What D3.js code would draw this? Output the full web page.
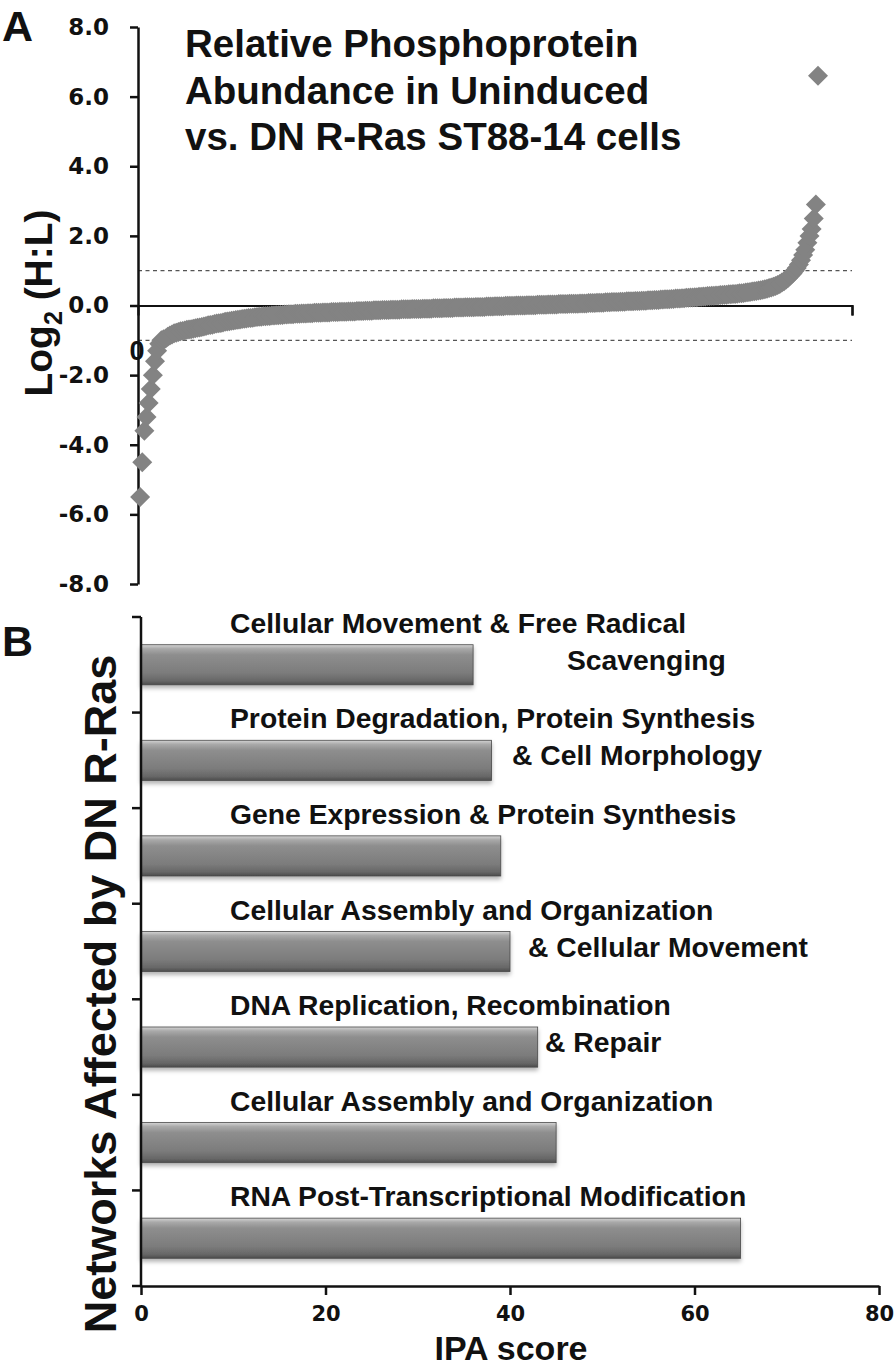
<!DOCTYPE html>
<html>
<head>
<meta charset="utf-8">
<script src="https://cdn.jsdelivr.net/npm/d3@7"></script>
<style>
  body { margin: 0; background: #fff; }
  svg { display: block; }
  text { font-family: "Liberation Sans", Arial, sans-serif; font-weight: bold; fill: #111; }
  .tick text { font-family: "DejaVu Sans", sans-serif; font-weight: bold; fill: #111; }
</style>
</head>
<body>
<svg id="chart" width="896" height="1367"></svg>
<script>
// ---- panel A: sorted log2(H:L) ratios (rank order) ----
var ratioValues = [
  -5.5, -4.5, -3.6, -3.2, -2.8, -2.4, -2.0, -1.6, -1.3, -1.1, -1.0, -0.97,
  -0.95, -0.9, -0.86, -0.83, -0.8, -0.78, -0.76, -0.74, -0.73, -0.72,
  -0.7, -0.69, -0.68, -0.67, -0.65, -0.64, -0.63, -0.62, -0.6, -0.59, -0.57, -0.56, -0.55, -0.53, -0.52, -0.51, -0.5, -0.49, -0.47, -0.46,
  -0.45, -0.44, -0.43, -0.42, -0.41, -0.4, -0.39, -0.38, -0.37, -0.36, -0.36, -0.35, -0.34, -0.33, -0.32, -0.32, -0.31, -0.31, -0.3, -0.3, -0.29, -0.29, -0.28, -0.28, -0.27, -0.27, -0.26,
  -0.26, -0.25, -0.25, -0.25, -0.24, -0.24, -0.24, -0.23, -0.23, -0.23, -0.22,
  -0.22, -0.22, -0.21, -0.21, -0.21, -0.21, -0.2, -0.2, -0.2, -0.2, -0.19, -0.19,
  -0.19, -0.19, -0.18, -0.18, -0.18, -0.18, -0.17, -0.17, -0.17, -0.17, -0.16, -0.16, -0.16,
  -0.16, -0.15, -0.15, -0.15, -0.15, -0.14, -0.14, -0.14, -0.14, -0.13, -0.13, -0.13, -0.13, -0.12, -0.12,
  -0.12, -0.12, -0.12, -0.11, -0.11, -0.11, -0.11, -0.11, -0.1, -0.1, -0.1, -0.1, -0.1, -0.09, -0.09, -0.09, -0.09,
  -0.09, -0.08, -0.08, -0.08, -0.08, -0.08, -0.07, -0.07, -0.07, -0.07, -0.07, -0.06, -0.06, -0.06, -0.06, -0.06,
  -0.05, -0.05, -0.05, -0.05, -0.05, -0.04, -0.04, -0.04, -0.04, -0.04, -0.03, -0.03, -0.03, -0.03, -0.02, -0.02, -0.02,
  -0.02, -0.02, -0.01, -0.01, -0.01, -0.01, -0.01, 0, 0, 0, 0, 0, 0.01, 0.01, 0.01,
  0.01, 0.01, 0.02, 0.02, 0.02, 0.02, 0.02, 0.03, 0.03, 0.03, 0.03, 0.03, 0.04, 0.04,
  0.04, 0.04, 0.04, 0.05, 0.05, 0.05, 0.05, 0.05, 0.06, 0.06, 0.06, 0.06, 0.07, 0.07,
  0.07, 0.07, 0.08, 0.08, 0.08, 0.08, 0.09, 0.09, 0.09, 0.1, 0.1,
  0.1, 0.1, 0.11, 0.11, 0.11, 0.12, 0.12, 0.12, 0.12, 0.13, 0.13, 0.13,
  0.14, 0.14, 0.14, 0.15, 0.15, 0.15, 0.16, 0.16, 0.16, 0.17,
  0.17, 0.18, 0.18, 0.18, 0.19, 0.19, 0.2, 0.2, 0.2,
  0.21, 0.21, 0.22, 0.22, 0.23, 0.23, 0.24, 0.24, 0.25, 0.25,
  0.26, 0.26, 0.27, 0.27, 0.28, 0.28, 0.29, 0.29, 0.3,
  0.3, 0.31, 0.31, 0.32, 0.32, 0.33, 0.33, 0.34, 0.35, 0.35, 0.36,
  0.37, 0.38, 0.39, 0.4, 0.41, 0.42, 0.43, 0.44, 0.45, 0.47, 0.48, 0.5, 0.52, 0.54,
  0.56, 0.59, 0.62, 0.66, 0.7, 0.75, 0.8, 0.86, 0.92, 1.0,
  1.08, 1.18, 1.3, 1.45, 1.6, 1.8, 2.0, 2.2, 2.5, 2.9, 6.6
];
var ratioTicks = [-8, -6, -4, -2, 0, 2, 4, 6, 8];
var cutoffs = [1, -1];
var titleLines = ["Relative Phosphoprotein", "Abundance in Uninduced", "vs. DN R-Ras ST88-14 cells"];

// ---- panel B: IPA networks ----
var networkLine1 = [
  "Cellular Movement & Free Radical",
  "Protein Degradation, Protein Synthesis",
  "Gene Expression & Protein Synthesis",
  "Cellular Assembly and Organization",
  "DNA Replication, Recombination",
  "Cellular Assembly and Organization",
  "RNA Post-Transcriptional Modification"
];
var networkLine2 = ["Scavenging", "& Cell Morphology", "", "& Cellular Movement", "& Repair", "", ""];
var ipaScores = [36, 38, 39, 40, 43, 45, 65];
var ipaTicks = [0, 20, 40, 60, 80];

// where the second line of each label starts (px)
var line2Left = [567, 512, 0, 528, 545, 0, 0];

var svg = d3.select("#chart");
svg.append("rect").attr("width", 896).attr("height", 1367).attr("fill", "#fff");

var defs = svg.append("defs");
var grad = defs.append("linearGradient").attr("id", "barGrad")
  .attr("x1", 0).attr("y1", 0).attr("x2", 0).attr("y2", 1);
[[0, "#d4d4d4"], [0.1, "#a9a9a9"], [0.25, "#8e8e8e"], [0.7, "#7c7c7c"], [0.9, "#676767"], [1, "#4c4c4c"]]
  .forEach(function(s) { grad.append("stop").attr("offset", s[0]).attr("stop-color", s[1]); });
var shadow = defs.append("filter").attr("id", "shadow")
  .attr("x", "-5%").attr("y", "-30%").attr("width", "110%").attr("height", "170%");
shadow.append("feDropShadow").attr("dx", 0).attr("dy", 3).attr("stdDeviation", 2)
  .attr("flood-color", "#000").attr("flood-opacity", 0.3);

/////////////// panel A ///////////////
var xA = d3.scaleLinear().domain([0, ratioValues.length * 1.05]).range([138, 852]);
var yA = d3.scaleLinear().domain([-8, 8]).range([584, 27]);

// dashed cut-off lines
svg.selectAll(".cut")
  .data(cutoffs)
  .enter().append("line")
  .attr("class", "cut")
  .attr("x1", xA(0)).attr("x2", xA.range()[1])
  .attr("y1", function(d) { return yA(d); })
  .attr("y2", function(d) { return yA(d); })
  .attr("stroke", "#555").attr("stroke-width", 1.2).attr("stroke-dasharray", "4,3.5");

// x axis through zero
var xAxisA = svg.append("g")
  .attr("transform", "translate(0," + yA(0) + ")")
  .call(d3.axisBottom(xA).tickValues([xA.domain()[1]]).tickSize(10).tickFormat(""));
xAxisA.select(".domain").attr("stroke", "#111").attr("stroke-width", 2.2);
xAxisA.selectAll(".tick line").attr("stroke", "#111").attr("stroke-width", 2.2);

// y axis
var yAxisA = svg.append("g")
  .attr("transform", "translate(" + xA(0) + ",0)")
  .call(d3.axisLeft(yA).tickValues(ratioTicks).tickSize(8).tickSizeOuter(0).tickPadding(21)
    .tickFormat(function(d) { return d.toFixed(1); }));
yAxisA.select(".domain").attr("stroke", "#111").attr("stroke-width", 2.5);
yAxisA.selectAll(".tick line").attr("stroke", "#111").attr("stroke-width", 2.5);
yAxisA.selectAll(".tick text").attr("font-size", 23);

// diamonds
var diamond = d3.symbol().type(d3.symbolSquare).size(200);
svg.append("g").selectAll("path")
  .data(ratioValues)
  .enter().append("path")
  .attr("d", diamond)
  .attr("transform", function(d, i) { return "translate(" + xA(i + 1) + "," + yA(d) + ") rotate(45)"; })
  .attr("fill", "#838383");

// stray "0" label of the category axis
svg.append("text").attr("x", 137).attr("y", 360).attr("text-anchor", "middle")
  .attr("font-size", 27).text("0");

// title
svg.append("g").selectAll("text")
  .data(titleLines)
  .enter().append("text")
  .attr("x", 185)
  .attr("y", function(d, i) { return 57 + i * 46.5; })
  .attr("font-size", 38.5)
  .text(function(d) { return d; });

// y title  Log2 (H:L)
var yTitleA = svg.append("text")
  .attr("transform", "translate(52,303) rotate(-90)")
  .attr("text-anchor", "middle")
  .attr("font-size", 39);
yTitleA.append("tspan").text("Log");
yTitleA.append("tspan").attr("font-size", 25).attr("dy", 10).text("2");
yTitleA.append("tspan").attr("dy", -10).text(" (H:L)");

// panel letters
svg.append("text").attr("x", 2).attr("y", 41).attr("font-size", 43).text("A");
svg.append("text").attr("x", 2).attr("y", 656).attr("font-size", 43).text("B");

/////////////// panel B ///////////////
var xB = d3.scaleLinear().domain([0, 80]).range([141, 879]);
var yB = d3.scaleBand().domain(d3.range(ipaScores.length))
  .range([617, 1286]).paddingInner(0.58).paddingOuter(0.29);

// bars
svg.append("g").selectAll("rect")
  .data(ipaScores)
  .enter().append("rect")
  .attr("x", xB(0))
  .attr("y", function(d, i) { return yB(i); })
  .attr("width", function(d) { return xB(d) - xB(0); })
  .attr("height", yB.bandwidth())
  .attr("fill", "url(#barGrad)")
  .attr("stroke", "#4a4a4a").attr("stroke-width", 0.8)
  .attr("filter", "url(#shadow)");

// labels
var labelG = svg.append("g");
networkLine1.forEach(function(t, i) {
  var c = yB(i) + yB.bandwidth() / 2;
  labelG.append("text").attr("x", 230).attr("y", c - 32).attr("font-size", 28.3).text(t);
  if (networkLine2[i]) {
    labelG.append("text").attr("x", line2Left[i]).attr("y", c + 5).attr("font-size", 28.3).text(networkLine2[i]);
  }
});

// x axis
var xAxisB = svg.append("g")
  .attr("transform", "translate(0,1286)")
  .call(d3.axisBottom(xB).tickValues(ipaTicks).tickSize(9).tickSizeOuter(0).tickPadding(11));
xAxisB.select(".domain").attr("stroke", "#111").attr("stroke-width", 2.5);
xAxisB.selectAll(".tick line").attr("stroke", "#111").attr("stroke-width", 2.5);
xAxisB.selectAll(".tick text").attr("font-size", 21);

// y axis with ticks between categories
var stepB = yB.step();
var yTickPos = d3.range(ipaScores.length + 1).map(function(k) { return 617 + k * stepB; });
svg.append("line").attr("x1", xB(0)).attr("x2", xB(0)).attr("y1", 617).attr("y2", 1286)
  .attr("stroke", "#111").attr("stroke-width", 2.5);
svg.append("g").selectAll("line")
  .data(yTickPos)
  .enter().append("line")
  .attr("x1", xB(0) - 9).attr("x2", xB(0))
  .attr("y1", function(d) { return d; }).attr("y2", function(d) { return d; })
  .attr("stroke", "#111").attr("stroke-width", 2.5);

// axis titles
svg.append("text").attr("x", 511).attr("y", 1360).attr("text-anchor", "middle")
  .attr("font-size", 34).text("IPA score");
svg.append("text").attr("transform", "translate(116,994) rotate(-90)")
  .attr("text-anchor", "middle").attr("font-size", 45).text("Networks Affected by DN R-Ras");
</script>
</body>
</html>
